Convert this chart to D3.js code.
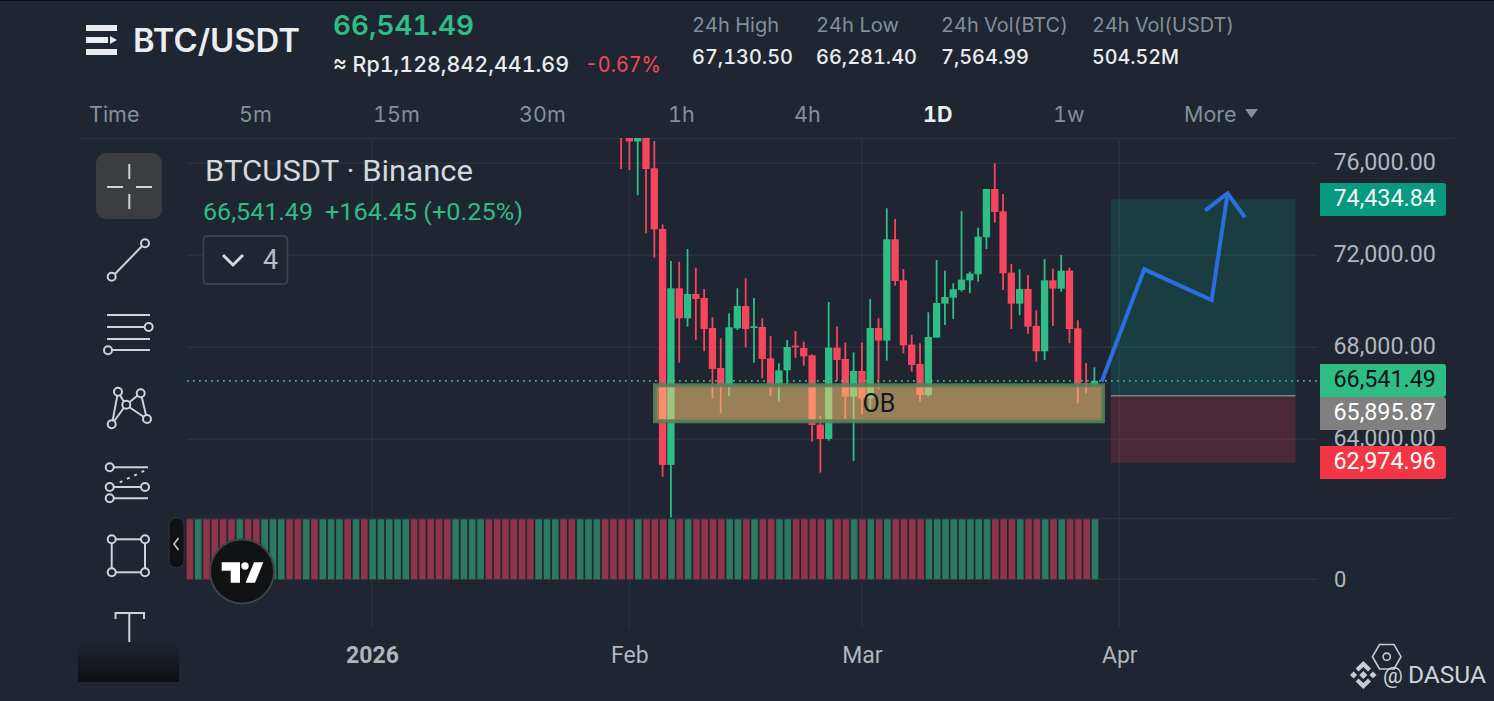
<!DOCTYPE html>
<html>
<head>
<meta charset="utf-8">
<title>BTC/USDT</title>
<script src="https://cdn.jsdelivr.net/npm/d3@7/dist/d3.min.js"></script>
<style>
    html, body { margin: 0; padding: 0; background: #1f2631; overflow: hidden; }
    svg { display: block; }
    text { font-family: Roboto, sans-serif; }
    .head { font-family: Inter, Roboto, sans-serif; font-variant-numeric: tabular-nums; }
</style>
</head>
<body>
<div id="chart"></div>
<script>
// daily candles, first one is 10 Dec 2025, last one is 29 Mar 2026
// everything before 31 Jan sits above the visible part of the pane
let opens = [
    92500, 92000, 92600, 90300, 90200, 88200, 86400, 87000, 86500, 85500, 86000, 88100, 88500, 88000, 87500, 88300,
    88000, 88400, 88500, 88900, 87400, 87900, 87500, 88700, 89000, 90500, 91400, 93700, 93400, 92000, 91000, 90500,
    90400, 90600, 91000, 92500, 95500, 95400, 95100, 94900, 93600, 92500, 91000, 91500, 91600, 91700, 89000, 88800,
    89200, 89300, 89500, 84500, 84200,
    77800, 76950, 77600, 75782, 73145, 62886, 70565, 69261, 70319, 70145, 68841, 67102, 66290, 68826, 69797, 68841,
    68884, 67522, 66407, 67000, 68073, 67971, 67653, 64639, 64016, 67986, 67493, 65856,
    66972, 65783, 68841, 68290, 72695, 70913, 68116, 67276, 65929, 68421, 69898, 70159, 70493, 70913, 71174, 72782,
    74883, 73912, 71246, 69898, 70536, 68928, 67826, 70913, 70551, 71333, 68826, 66436, 66349
];
let highs = [
    93100, 93200, 93200, 90900, 90800, 88800, 87600, 87600, 87100, 86600, 88700, 89100, 89100, 88600, 88900, 88900,
    89000, 89100, 89500, 89500, 88500, 88500, 89300, 89600, 91100, 92000, 94300, 94300, 94000, 92600, 91600, 91100,
    91200, 91600, 93100, 96100, 96100, 96000, 95700, 95500, 94200, 93100, 92100, 92200, 92300, 92300, 89600, 89800,
    89900, 90100, 90100, 85100, 84800,
    78200, 77900, 78100, 76970, 73347, 71753, 71710, 72275, 71464, 70536, 69305, 68392, 69478, 70565, 70999, 70145,
    69261, 68493, 67305, 68319, 68710, 68247, 67696, 65016, 69971, 68899, 68203, 67783,
    68203, 70102, 69261, 74043, 73579, 71406, 68537, 68174, 69522, 71797, 71333, 70783, 73912, 71290, 73202, 74883,
    75999, 74666, 71623, 71391, 71130, 69609, 71840, 71420, 72014, 71464, 69174, 67319, 67130.5
];
let lows = [
    91400, 91400, 89700, 89700, 87600, 85800, 85800, 85900, 84900, 84900, 85400, 87500, 87400, 86900, 86900, 87400,
    87400, 87800, 87900, 86800, 86800, 86900, 86900, 88100, 88400, 89900, 90800, 92800, 91400, 90400, 89900, 89800,
    89800, 90000, 90400, 91900, 94800, 94500, 94300, 93000, 91900, 90400, 90400, 90900, 91000, 88400, 88200, 88200,
    88600, 88700, 83900, 83600, 75753,
    75709, 74608, 72956, 71900, 62378, 60596, 67334, 68899, 68319, 67827, 65784, 65132, 65885, 68754, 67997, 67334,
    66653, 65885, 65639, 66320, 67537, 67203, 63900, 62552, 63943, 66551, 64885, 63059,
    65088, 65300, 66175, 67421, 70681, 67740, 66943, 65639, 65856, 68421, 68971, 69232, 70420, 70348, 70855, 72275,
    73420, 70493, 68797, 69391, 68580, 67377, 67450, 68928, 70420, 68174, 65566, 66000, 66281.4
];
let closes = [
    92000, 92600, 90300, 90200, 88200, 86400, 87000, 86500, 85500, 86000, 88100, 88500, 88000, 87500, 88300, 88000,
    88400, 88500, 88900, 87400, 87900, 87500, 88700, 89000, 90500, 91400, 93700, 93400, 92000, 91000, 90500, 90400,
    90600, 91000, 92500, 95500, 95400, 95100, 94900, 93600, 92500, 91000, 91500, 91600, 91700, 89000, 88800, 89200,
    89300, 89500, 84500, 84200, 77800,
    76950, 77600, 75753, 73130, 62886, 70565, 69261, 70319, 70101, 68797, 67059, 66290, 68870, 69797, 68797, 68913,
    67493, 66407, 67000, 68015, 68000, 67609, 64624, 64016, 67986, 67450, 65856, 66972,
    65783, 68841, 68290, 72695, 70884, 68087, 67232, 65929, 68450, 69927, 70188, 70522, 70942, 71203, 72811, 74883,
    73883, 71217, 69898, 70536, 68899, 67826, 70913, 70551, 71333, 68797, 66407, 66392, 66541.49
];

// every volume bar runs off the top of its pane, so only the floor can be read
let volumeFloor = 7564.99;

let priceTicks = [76000, 72000, 68000, 64000];
let timeTicks = ["2026-01-01", "2026-02-01", "2026-03-01", "2026-04-01"];
let timeLabels = ["2026", "Feb", "Mar", "Apr"];

let lastPrice = 66541.49;
let takeProfit = 74434.84;
let entryPrice = 65895.87;
let stopLoss = 62974.96;

let obBand = {from: "2026-02-04T02:00Z", to: "2026-03-30T01:00Z", top: 66348, bottom: 64783};
let positionSpan = ["2026-03-31T00:00Z", "2026-04-22T05:00Z"];
let arrowDates = ["2026-03-29T21:00Z", "2026-04-04T00:00Z", "2026-04-12T03:00Z", "2026-04-14T01:00Z"];
let arrowPrices = [66504, 71391, 70057, 74696];
let arrowHeadDates = ["2026-04-11T08:00Z", "2026-04-14T01:00Z", "2026-04-16T03:00Z"];
let arrowHeadPrices = [73939, 74696, 73652];

let intervals = ["Time", "5m", "15m", "30m", "1h", "4h", "1D", "1w", "More"];
let intervalX = [89, 239, 373, 519, 668, 794, 923, 1053, 1184];
let statNames = ["24h High", "24h Low", "24h Vol(BTC)", "24h Vol(USDT)"];
let statValues = ["67,130.50", "66,281.40", "7,564.99", "504.52M"];
let statX = [692, 816, 941, 1092];
let statNameW = [87, 83, 127, 142];
let statValueW = [101, 101, 88, 87];

const BG = "#1f2631", GRID = "#2a313c", UP = "#2ebd85", DOWN = "#f6465d", AXIS = "#b2b5bc";

let svg = d3.select("#chart").append("svg")
    .attr("width", 1494)
    .attr("height", 701);

svg.append("rect").attr("width", 1494).attr("height", 701).attr("fill", BG);
svg.append("rect").attr("width", 1494).attr("height", 1).attr("fill", "#0b0e11");

// scales
let firstDay = new Date(Date.UTC(2025, 11, 10));
let dates = closes.map((d, i) => d3.utcDay.offset(firstDay, i));

let x = d3.scaleUtc()
    .domain([new Date("2026-01-01T00:00Z"), new Date("2026-04-01T00:00Z")])
    .range([372, 1119.3]);
let y = d3.scaleLinear()
    .domain([76000, 64000])
    .range([163.3, 439.3]);
let yVol = d3.scaleLinear()
    .domain([0, volumeFloor])
    .range([579.3, 519.3]);
let dayWidth = x(dates[1]) - x(dates[0]);

svg.append("clipPath").attr("id", "pane")
    .append("rect").attr("x", 187).attr("y", 138).attr("width", 1131).attr("height", 381);

// grid
let grid = svg.append("g").attr("stroke", GRID).attr("stroke-width", 1.5);
grid.selectAll(".h").data(priceTicks).enter().append("line")
    .attr("x1", 187).attr("x2", 1318)
    .attr("y1", d => y(d)).attr("y2", d => y(d));
grid.selectAll(".v").data(timeTicks).enter().append("line")
    .attr("x1", d => x(new Date(d))).attr("x2", d => x(new Date(d)))
    .attr("y1", 138).attr("y2", 628);
grid.append("line").attr("x1", 78).attr("x2", 1454).attr("y1", 138.5).attr("y2", 138.5);
grid.append("line").attr("x1", 187).attr("x2", 1454).attr("y1", 518.5).attr("y2", 518.5);
grid.append("line").attr("x1", 187).attr("x2", 1318).attr("y1", yVol(0)).attr("y2", yVol(0));

// volume
svg.append("g").selectAll("rect").data(closes).enter().append("rect")
    .attr("x", (d, i) => x(dates[i]) - dayWidth * 0.4 + 0.6)
    .attr("width", dayWidth * 0.8)
    .attr("y", yVol(volumeFloor))
    .attr("height", yVol(0) - yVol(volumeFloor))
    .attr("fill", (d, i) => d >= opens[i] ? "#2c7860" : "#8f344b");

// candles
let candles = svg.append("g").attr("clip-path", "url(#pane)");
candles.selectAll(".wick").data(closes).enter().append("line")
    .attr("x1", (d, i) => x(dates[i])).attr("x2", (d, i) => x(dates[i]))
    .attr("y1", (d, i) => y(highs[i])).attr("y2", (d, i) => y(lows[i]))
    .attr("stroke", (d, i) => d >= opens[i] ? UP : DOWN)
    .attr("stroke-width", 1.8);
candles.selectAll(".body").data(closes).enter().append("rect")
    .attr("x", (d, i) => x(dates[i]) - dayWidth * 0.44)
    .attr("width", dayWidth * 0.88)
    .attr("y", (d, i) => y(Math.max(d, opens[i])))
    .attr("height", (d, i) => Math.max(1.2, Math.abs(y(d) - y(opens[i]))))
    .attr("fill", (d, i) => d >= opens[i] ? UP : DOWN);

// last price line
svg.append("line")
    .attr("x1", 187).attr("x2", 1318)
    .attr("y1", y(lastPrice)).attr("y2", y(lastPrice))
    .attr("stroke", UP)
    .attr("stroke-width", 1.8)
    .attr("stroke-dasharray", "1.8 4.2");

// OB zone
svg.append("rect")
    .attr("x", x(new Date(obBand.from)))
    .attr("width", x(new Date(obBand.to)) - x(new Date(obBand.from)))
    .attr("y", y(obBand.top))
    .attr("height", y(obBand.bottom) - y(obBand.top))
    .attr("fill", "rgba(254,202,120,0.55)")
    .attr("stroke", "rgba(90,125,88,0.9)")
    .attr("stroke-width", 4);
svg.append("text")
    .attr("x", x(new Date("2026-03-03T01:00Z")))
    .attr("y", y((obBand.top + obBand.bottom) / 2) + 9)
    .attr("text-anchor", "middle")
    .attr("font-size", 25)
    .attr("fill", "#15181d")
    .text("OB");

// long position tool
let posX = x(new Date(positionSpan[0]));
let posW = x(new Date(positionSpan[1])) - posX;
svg.append("rect").attr("x", posX).attr("width", posW)
    .attr("y", y(takeProfit)).attr("height", y(entryPrice) - y(takeProfit))
    .attr("fill", "rgba(8,153,129,0.2)");
svg.append("rect").attr("x", posX).attr("width", posW)
    .attr("y", y(entryPrice)).attr("height", y(stopLoss) - y(entryPrice))
    .attr("fill", "rgba(242,54,69,0.2)");
svg.append("line").attr("x1", posX).attr("x2", posX + posW)
    .attr("y1", y(entryPrice)).attr("y2", y(entryPrice))
    .attr("stroke", "#808080").attr("stroke-width", 1.6);

// hand drawn arrow
let arrowLine = d3.line()
    .x(d => x(new Date(d[0])))
    .y(d => y(d[1]));
let arrow = svg.append("g").attr("fill", "none").attr("stroke", "#2a6fe0").attr("stroke-width", 4);
arrow.append("path").attr("d", arrowLine(d3.zip(arrowDates, arrowPrices)));
arrow.append("path").attr("d", arrowLine(d3.zip(arrowHeadDates, arrowHeadPrices)));

// axes
let yAxis = svg.append("g")
    .attr("transform", "translate(1333.5,-1)")
    .call(d3.axisRight(y).tickValues(priceTicks).tickSize(0).tickPadding(0).tickFormat(d3.format(",.2f")));
yAxis.select(".domain").remove();
yAxis.selectAll("text").attr("font-size", 23.3).attr("font-family", "Roboto").attr("fill", AXIS);

let volAxis = svg.append("g")
    .attr("transform", "translate(1334,0)")
    .call(d3.axisRight(yVol).tickValues([0]).tickSize(0).tickPadding(0));
volAxis.select(".domain").remove();
volAxis.selectAll("text").attr("font-size", 22).attr("font-family", "Roboto").attr("fill", AXIS);

let xAxis = svg.append("g")
    .attr("transform", "translate(0,644)")
    .call(d3.axisBottom(x)
        .tickValues(timeTicks.map(d => new Date(d + "T00:00Z")))
        .tickSize(0)
        .tickFormat((d, i) => timeLabels[i]));
xAxis.select(".domain").remove();
xAxis.selectAll("text")
    .attr("font-size", 23)
    .attr("font-family", "Roboto")
    .attr("fill", AXIS)
    .attr("font-weight", (d, i) => i === 0 ? 700 : 400);

// price tags
let tags = [
    {p: takeProfit, fill: "#089981", text: "#f4f6f8", top: 183},
    {p: lastPrice, fill: UP, text: "#10141a", top: 364},
    {p: entryPrice, fill: "#808080", text: "#ffffff", top: 397},
    {p: stopLoss, fill: "#f23645", text: "#ffffff", top: 446}
];
let tag = svg.selectAll(".tag").data(tags).enter().append("g");
tag.append("path")
    .attr("d", d => `M1320,${d.top}H1443a3,3 0 0 1 3,3V${d.top + 30}a3,3 0 0 1 -3,3H1320Z`)
    .attr("fill", d => d.fill);
tag.append("text")
    .attr("x", 1333.5)
    .attr("y", d => d.top + 23)
    .attr("font-size", 23.3)
    .attr("fill", d => d.text)
    .text(d => d3.format(",.2f")(d.p));

// header
function label(text, px, py, size, fill, weight, cls, width) {
    let t = svg.append("text")
        .attr("class", cls || "head")
        .attr("x", px).attr("y", py)
        .attr("font-size", size)
        .attr("fill", fill)
        .attr("font-weight", weight || 400)
        .text(text);
    if (width) t.attr("textLength", width).attr("lengthAdjust", "spacingAndGlyphs");
    return t;
}

let menu = svg.append("g").attr("fill", "#eaecef");
menu.append("rect").attr("x", 86).attr("y", 25).attr("width", 31).attr("height", 6);
menu.append("rect").attr("x", 86).attr("y", 37).attr("width", 22).attr("height", 6);
menu.append("path").attr("d", "M110,36L117,40L110,44Z");
menu.append("rect").attr("x", 86).attr("y", 49).attr("width", 31).attr("height", 6);

label("BTC/USDT", 133, 52, 32, "#eaecef", 600, "head", 167);
label("66,541.49", 333, 35, 27, UP, 600, "head", 141);
label("≈ Rp1,128,842,441.69", 333, 72, 21.5, "#eaecef", 500, "head", 236);
label("-0.67%", 585, 72, 21.5, DOWN, 400, "head", 76);

statNames.forEach((d, i) => label(d, statX[i], 32, 20, "#848e9c", 400, "head", statNameW[i]));
statValues.forEach((d, i) => label(d, statX[i], 64, 20, "#eaecef", 500, "head", statValueW[i]));

intervals.forEach((d, i) => label(d, intervalX[i], 122, 21.5, d === "1D" ? "#eaecef" : "#848e9c", d === "1D" ? 700 : 400));
svg.append("path").attr("d", "M1245,109H1258L1251.5,118Z").attr("fill", "#848e9c");

// legend
label("BTCUSDT · Binance", 205, 181, 29, "#d5d8dd", 400, "leg", 268);
label("66,541.49", 203, 220, 24, UP, 400, "leg", 110);
label("+164.45 (+0.25%)", 325, 220, 24, UP, 400, "leg", 198);
svg.append("rect").attr("x", 203.5).attr("y", 236).attr("width", 84).attr("height", 48).attr("rx", 4)
    .attr("fill", BG).attr("stroke", "#3d424b").attr("stroke-width", 1.8);
svg.append("path").attr("d", "M223,255L233,265L243,255").attr("fill", "none").attr("stroke", "#d5d8dd").attr("stroke-width", 3);
label("4", 263, 269, 27, "#b9bcc2", 400, "leg");

// left toolbar
let bar = svg.append("g").attr("fill", "none").attr("stroke", "#cfd2d6").attr("stroke-width", 2);
function seg(x1, y1, x2, y2) {
    bar.append("line").attr("x1", x1).attr("y1", y1).attr("x2", x2).attr("y2", y2);
}
function ring(cx, cy) {
    bar.append("circle").attr("cx", cx).attr("cy", cy).attr("r", 4).attr("fill", BG);
}

bar.append("rect").attr("x", 96).attr("y", 153).attr("width", 66).attr("height", 66).attr("rx", 10)
    .attr("fill", "#3b3d40").attr("stroke", "none");
seg(129.3, 164, 129.3, 179); seg(129.3, 194, 129.3, 209);
seg(107, 187, 123, 187); seg(136, 187, 152, 187);

seg(145, 243, 112, 277); ring(145, 243.3); ring(111.7, 276.7);

seg(107, 315, 150, 315); seg(107, 327, 149, 327); seg(107, 339, 150, 339); seg(108, 350, 150, 350);
ring(148.7, 327); ring(108, 350.3);

seg(118, 392, 126, 405); seg(118, 392, 112, 424); seg(112, 424, 126, 405); seg(126, 405, 147, 419);
seg(140.7, 393, 126, 405); seg(140.7, 393, 147, 419);
ring(118, 391.7); ring(140.7, 393.3); ring(126.3, 404.7); ring(111.7, 424.3); ring(147, 419);

seg(110, 467.3, 148, 467.3); seg(110, 487, 145, 487); seg(110, 498.3, 148, 498.3);
bar.append("line").attr("x1", 119.7).attr("y1", 482.3).attr("x2", 144.7).attr("y2", 470.7)
    .attr("stroke-dasharray", "3 5");
ring(109.7, 467.3); ring(109.7, 487); ring(145, 487); ring(109.7, 498.3);

bar.append("rect").attr("x", 111.7).attr("y", 539.3).attr("width", 33.3).attr("height", 33);
ring(111.7, 539.3); ring(145, 539.3); ring(111.7, 572.3); ring(145, 572.3);

bar.append("path").attr("d", "M115.5,619V613H144V619M129.3,613V647M124.7,647H134");

// fade at the bottom of the toolbar
let fade = svg.append("defs").append("linearGradient")
    .attr("id", "fade").attr("x1", 0).attr("x2", 0).attr("y1", 0).attr("y2", 1);
fade.append("stop").attr("offset", 0).attr("stop-color", BG);
fade.append("stop").attr("offset", 1).attr("stop-color", "#0d0f12");
svg.append("rect").attr("x", 78).attr("y", 642).attr("width", 101).attr("height", 40).attr("fill", "url(#fade)");

// collapse handle
svg.append("rect").attr("x", 169).attr("y", 518).attr("width", 15).attr("height", 50).attr("rx", 7.5)
    .attr("fill", "#0f1114").attr("stroke", "#30343a");
svg.append("path").attr("d", "M178.5,538L174,544L178.5,550").attr("fill", "none").attr("stroke", "#c4c7cb").attr("stroke-width", 1.6);

// TradingView badge
svg.append("circle").attr("cx", 242).attr("cy", 571.5).attr("r", 32)
    .attr("fill", "#111214").attr("stroke", "#3f4247").attr("stroke-width", 2);
let tv = svg.append("g").attr("fill", "#ffffff");
tv.append("path").attr("d", "M221.7,562.3H240V582.7H230.7V570.7H221.7Z");
tv.append("circle").attr("cx", 245).attr("cy", 566).attr("r", 3.7);
tv.append("path").attr("d", "M254,562.3H263.3L255,582.7H245.7Z");

// watermark
let mark = svg.append("g").attr("fill", "none").attr("stroke", "#c8ccd0").attr("stroke-width", 1.6);
mark.append("path").attr("d", "M1379.5,644.5H1394L1401,656.7L1394,669H1379.5L1372.5,656.7Z");
mark.append("circle").attr("cx", 1386.7).attr("cy", 656.7).attr("r", 3.6);
let bnb = svg.append("g").attr("fill", "#c8ccd0");
bnb.append("path").attr("d", "M1363.3,661L1371,668.5L1368,671.5L1363.3,667L1358.6,671.5L1355.6,668.5Z");
bnb.append("path").attr("d", "M1363.3,689L1371,681.5L1368,678.5L1363.3,683L1358.6,678.5L1355.6,681.5Z");
bnb.append("path").attr("d", "M1363.3,671L1367.3,675L1363.3,679L1359.3,675Z");
bnb.append("path").attr("d", "M1350,675L1353.6,671.4L1357.2,675L1353.6,678.6Z");
bnb.append("path").attr("d", "M1369.4,675L1373,671.4L1376.6,675L1373,678.6Z");
label("@", 1383, 683, 22, "#d0d3d7", 400, "leg");
label("DASUA", 1408, 683, 23, "#d0d3d7", 400, "leg", 78);
</script>
</body>
</html>
